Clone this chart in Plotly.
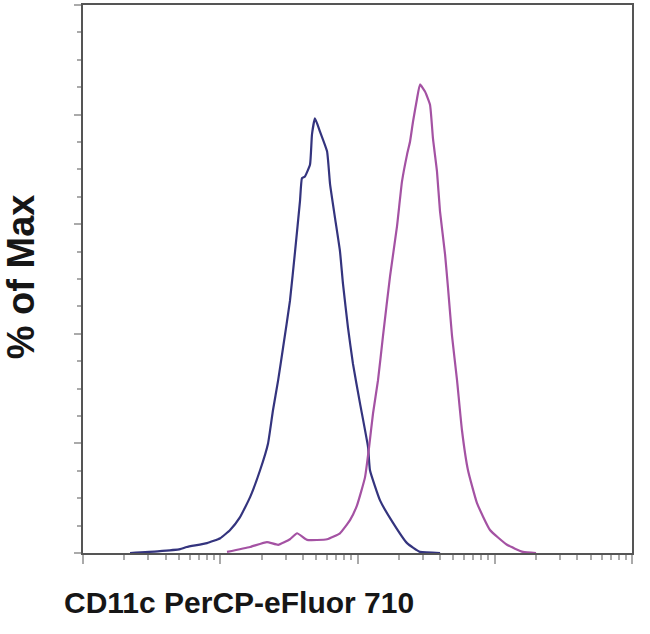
import plotly.graph_objects as go

# Blue (control) histogram
blue_x = [2.2, 3.5, 5.1, 5.7, 8.0, 10.0, 11.8, 13.9, 16.5, 19.5, 22.3, 24.2, 26.4, 28.7,
          32.2, 35.1, 38.1, 39.4, 41.4, 45.1, 46.6, 49.0, 53.3, 60.0, 63.1, 68.6, 74.5,
          78.4, 85.3, 92.7, 104.3, 119.4, 123.3, 145.9, 181.5, 229.6, 285.3, 400]
blue_y = [0.0, 0.3, 0.7, 1.1, 1.8, 2.7, 4.2, 6.5, 10.2, 15.1, 20.0, 26.0, 31.5, 37.5,
          46.0, 55.1, 64.2, 68.4, 68.7, 70.9, 76.4, 79.3, 76.9, 73.3, 67.3, 61.1, 55.1,
          49.1, 41.1, 34.5, 27.3, 19.3, 15.1, 9.6, 5.5, 1.8, 0.2, 0.0]

# Magenta (CD11c stained) histogram
mag_x = [11.2, 16.5, 21.9, 26.4, 32.2, 36.3, 42.9, 60.0, 74.5, 88.2, 99.2, 113.4, 121.4,
         129.8, 141.0, 153.4, 172.6, 194.0, 211.0, 229.6, 241.5, 253.7, 271.5, 285.3,
         310.3, 337.6, 354.8, 379.5, 399.0, 434.5, 456.4, 488.3, 531.3, 577.0, 638.3,
         742.5, 923.4, 1228, 1606, 2000]
mag_y = [0.2, 1.1, 2.0, 1.5, 2.5, 3.6, 2.4, 2.5, 3.6, 6.0, 8.7, 13.8, 19.3,
         25.5, 31.5, 39.6, 50.5, 59.6, 67.8, 72.7, 75.1, 78.7, 82.9, 85.5,
         84.2, 81.8, 75.6, 69.6, 62.4, 54.5, 48.4, 39.6, 31.5, 22.4, 15.1,
         9.1, 4.2, 1.5, 0.2, 0.0]

x_major = [1, 10, 100, 1000, 10000]
x_minor = [m * d for d in [1, 10, 100, 1000] for m in range(2, 10)]

fig = go.Figure()
fig.add_trace(go.Scatter(x=blue_x, y=blue_y, mode="lines",
                         line=dict(color="#34347e", width=2.2, shape="spline", smoothing=0.4),
                         showlegend=False))
fig.add_trace(go.Scatter(x=mag_x, y=mag_y, mode="lines",
                         line=dict(color="#a452a3", width=2.2, shape="spline", smoothing=0.4),
                         showlegend=False))

fig.update_layout(
    width=650, height=634,
    margin=dict(l=83, r=18, t=3, b=81),
    paper_bgcolor="white", plot_bgcolor="white",
    font=dict(family="Liberation Sans, Arial, sans-serif", color="#111"),
    xaxis=dict(type="log", range=[0, 4], showgrid=False, zeroline=False,
               showline=True, mirror=True, linecolor="#555", linewidth=2,
               ticks="outside", ticklen=9, tickcolor="#aaa", tickwidth=1.5,
               tickvals=x_major, showticklabels=False,
               minor=dict(ticks="outside", ticklen=5, tickcolor="#aaa", tickvals=x_minor)),
    yaxis=dict(range=[0, 100], showgrid=False, zeroline=False,
               showline=True, mirror=True, linecolor="#555", linewidth=2,
               ticks="outside", ticklen=7, tickcolor="#aaa", tickwidth=1.5,
               dtick=20, showticklabels=False,
               minor=dict(ticks="outside", ticklen=4, tickcolor="#aaa", dtick=5)),
    annotations=[
        dict(text="<b>CD11c PerCP-eFluor 710</b>", xref="paper", yref="paper",
             x=-0.038, y=-0.091, xanchor="left", yanchor="middle", showarrow=False,
             font=dict(size=30, color="#161616")),
        dict(text="<b>% of Max</b>", xref="paper", yref="paper", textangle=-90,
             x=-0.113, y=0.505, xanchor="center", yanchor="middle", showarrow=False,
             font=dict(size=38, color="#161616")),
    ],
)

fig.write_html("out.html", config={"displayModeBar": False},
               post_script="document.body.style.margin='0px';")
